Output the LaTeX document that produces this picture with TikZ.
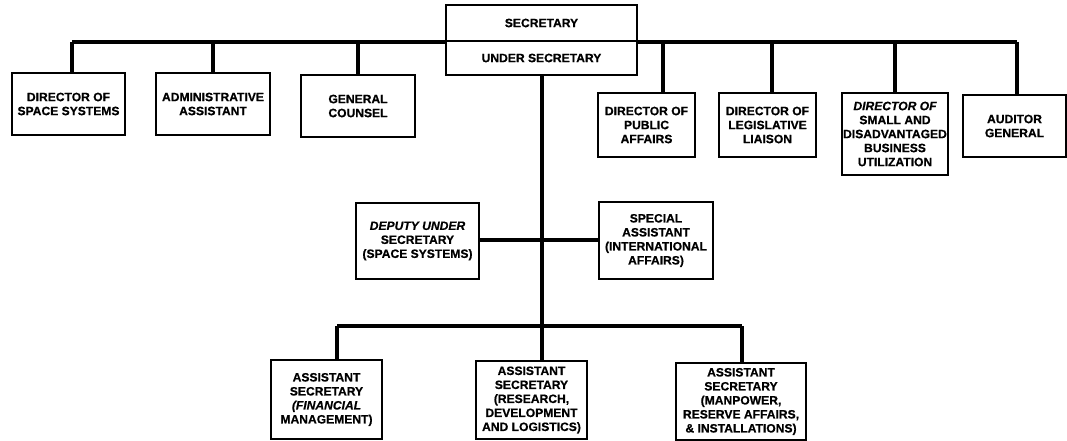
\documentclass[tikz,border=0pt]{standalone}
\usepackage{fontspec}
\newfontfamily\orgfont{Liberation Sans}[FakeBold=0.6]
\begin{document}
\begin{tikzpicture}[x=1pt,y=-1pt,
  orgbox/.style={draw, line width=1.5pt, fill=white, inner sep=0pt, align=center,
    font=\orgfont\bfseries\fontsize{12.1}{14}\selectfont},
  link/.style={line width=3.2pt}]
\useasboundingbox (0,0) rectangle (1067,441);

% junction points on the connector bars
\coordinate (jL)   at (72,42);
\coordinate (jR)   at (1017,42);
\coordinate (jPub) at (663,42);
\coordinate (jLeg) at (772,42);
\coordinate (jMid) at (542,240);
\coordinate (jFin) at (337,326);
\coordinate (jMra) at (742,326);

% secretariat
\node[orgbox, minimum width=191pt, minimum height=36pt] (sec)  at (541.5,23) {SECRETARY};
\node[orgbox, minimum width=191pt, minimum height=34pt] (usec) at (541.5,58) {UNDER SECRETARY};

% staff offices reporting to the secretary
\node[orgbox, minimum width=113pt, minimum height=62pt] (dss) at (68.5,104) {DIRECTOR OF\\SPACE SYSTEMS};
\node[orgbox, minimum width=114pt, minimum height=62pt] (adm) at (213,104) {ADMINISTRATIVE\\ASSISTANT};
\node[orgbox, minimum width=114pt, minimum height=62pt] (gc)  at (358,106) {GENERAL\\COUNSEL};
\node[orgbox, minimum width=97pt,  minimum height=64pt] (pub) at (646.5,125) {DIRECTOR OF\\PUBLIC\\AFFAIRS};
\node[orgbox, minimum width=97pt,  minimum height=64pt] (leg) at (767.5,125) {DIRECTOR OF\\LEGISLATIVE\\LIAISON};
\node[orgbox, minimum width=106pt, minimum height=82pt] (sdb) at (895,134) {\itshape DIRECTOR OF\\SMALL AND\\DISADVANTAGED\\BUSINESS\\UTILIZATION};
\node[orgbox, minimum width=103pt, minimum height=62pt] (aud) at (1014.5,126) {AUDITOR\\GENERAL};

% deputies of the under secretary
\node[orgbox, minimum width=123pt, minimum height=76pt] (dus) at (417.5,241) {\itshape DEPUTY UNDER\\SECRETARY\\(SPACE SYSTEMS)};
\node[orgbox, minimum width=114pt, minimum height=77pt] (spa) at (656,240.5) {SPECIAL\\ASSISTANT\\(INTERNATIONAL\\AFFAIRS)};

% assistant secretaries
\node[orgbox, minimum width=111pt, minimum height=79pt] (fin) at (326.5,399.5) {ASSISTANT\\SECRETARY\\{\itshape (FINANCIAL}\\MANAGEMENT)};
\node[orgbox, minimum width=111pt, minimum height=78pt] (rdl) at (531.5,400) {ASSISTANT\\SECRETARY\\(RESEARCH,\\DEVELOPMENT\\AND LOGISTICS)};
\node[orgbox, minimum width=130pt, minimum height=77pt] (mra) at (741,401.5) {ASSISTANT\\SECRETARY\\(MANPOWER,\\RESERVE AFFAIRS,\\\& INSTALLATIONS)};

% connectors: top bar and the offices hanging from it
\draw[link] (jL) -- (sec.west |- jL);
\draw[link] (sec.east |- jR) -- (jR);
\draw[link] (jL) -- (jL |- dss.north);
\draw[link] (adm.north) -- (adm.north |- jL);
\draw[link] (gc.north) -- (gc.north |- jL);
\draw[link] (jPub) -- (jPub |- pub.north);
\draw[link] (jLeg) -- (jLeg |- leg.north);
\draw[link] (sdb.north |- jR) -- (sdb.north);
\draw[link] (jR) -- (jR |- aud.north);

% spine below the under secretary
\draw[link] (usec.south -| jMid) -- (jMid |- rdl.north);
\draw[link] (dus.east |- jMid) -- (spa.west |- jMid);

% bottom bar
\draw[link] (jFin) -- (jMra);
\draw[link] (jFin) -- (jFin |- fin.north);
\draw[link] (jMra) -- (jMra |- mra.north);
\end{tikzpicture}
\end{document}
